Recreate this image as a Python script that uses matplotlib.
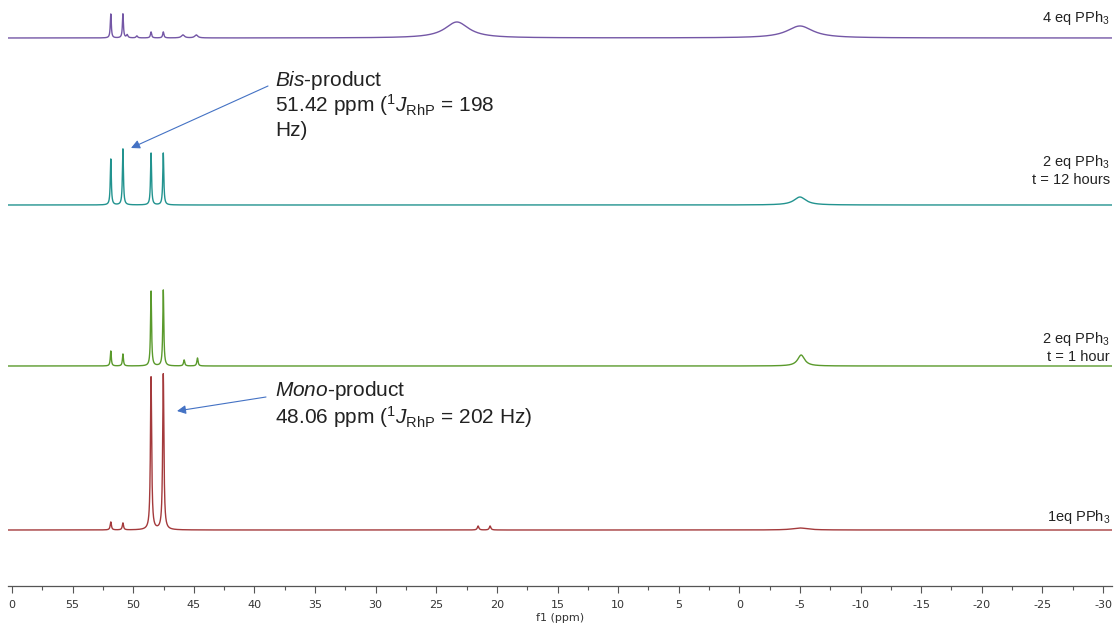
import numpy as np
import matplotlib
matplotlib.use("Agg")
import matplotlib.pyplot as plt
from matplotlib.ticker import MultipleLocator, FixedLocator, FixedFormatter

plt.rcParams['font.family'] = ['Liberation Sans', 'DejaVu Sans']
plt.rcParams['mathtext.fontset'] = 'custom'
plt.rcParams['mathtext.rm'] = 'Liberation Sans'
plt.rcParams['mathtext.it'] = 'Liberation Sans:italic'

# ---------------- data ----------------
spectrum_names = ["4 eq PPh$_3$", "2 eq PPh$_3$\nt = 12 hours", "2 eq PPh$_3$\nt = 1 hour", "1eq PPh$_3$"]
spectrum_colors = ["#7457a6", "#22938f", "#5a9a2c", "#a43a3c"]
baselines = [548, 381, 220, 56]          # vertical offsets (arbitrary units)

# peak lists: position (ppm), height (a.u.), FWHM (ppm)
peaks_4eq_ppm    = [51.85, 50.85, 50.50, 49.70, 48.53, 47.52, 45.9, 44.8, 23.3, -5.0]
peaks_4eq_height = [24,    24,    3,     2,     6,     6,     3,    3,    16,   12]
peaks_4eq_width  = [0.10,  0.10,  0.15,  0.15,  0.12,  0.12,  0.3,  0.3,  2.4,  2.6]

peaks_2eq12_ppm    = [51.85, 50.85, 48.53, 47.52, -5.0]
peaks_2eq12_height = [46,    56,    52,    52,    8]
peaks_2eq12_width  = [0.10,  0.10,  0.10,  0.10,  1.2]

peaks_2eq1_ppm    = [51.85, 50.85, 48.53, 47.52, 45.8, 44.7, -5.1]
peaks_2eq1_height = [15,    12,    75,    76,    6,    8,    11]
peaks_2eq1_width  = [0.10,  0.10,  0.10,  0.10,  0.12, 0.12, 0.7]

peaks_1eq_ppm    = [51.85, 50.85, 48.53, 47.52, 21.55, 20.56, -5.0]
peaks_1eq_height = [8,     7,     153,   156,   4,    4,    2]
peaks_1eq_width  = [0.12,  0.12,  0.12,  0.12,  0.15, 0.15, 1.5]

peak_tables = [
    (peaks_4eq_ppm, peaks_4eq_height, peaks_4eq_width),
    (peaks_2eq12_ppm, peaks_2eq12_height, peaks_2eq12_width),
    (peaks_2eq1_ppm, peaks_2eq1_height, peaks_2eq1_width),
    (peaks_1eq_ppm, peaks_1eq_height, peaks_1eq_width),
]

tick_values = [60, 55, 50, 45, 40, 35, 30, 25, 20, 15, 10, 5, 0, -5, -10, -15, -20, -25, -30]
tick_labels = ["0", "55", "50", "45", "40", "35", "30", "25", "20", "15", "10", "5", "0",
               "-5", "-10", "-15", "-20", "-25", "-30"]

# ---------------- figure ----------------
W, H = 1119, 627
fig = plt.figure(figsize=(W / 100, H / 100), dpi=100)
px_per_ppm = (1103 - 12) / 90.0
ax_left_px, ax_right_px, ax_bottom_px = 8, 1112, 586
ax = fig.add_axes([ax_left_px / W, (H - ax_bottom_px) / H,
                   (ax_right_px - ax_left_px) / W, ax_bottom_px / H])
xl = 60 + (12 - ax_left_px) / px_per_ppm
xr = -30 - (ax_right_px - 1103) / px_per_ppm
ax.set_xlim(xl, xr)
ax.set_ylim(0, ax_bottom_px)


def px2ppm(px):
    return 60 - (px - 12) / px_per_ppm


def py2y(py):
    return ax_bottom_px - py


x = np.linspace(xl, xr, 12000)
for (pos, hts, wds), base, col in zip(peak_tables, baselines, spectrum_colors):
    y = np.zeros_like(x)
    for p, h, w in zip(pos, hts, wds):
        g = w / 2.0
        y += h * g ** 2 / ((x - p) ** 2 + g ** 2)
    ax.plot(x, base + y, color=col, lw=1.0, solid_joinstyle='round')

# spectrum labels
label_x = px2ppm(1110)
label_y_px = [18, 170, 347, 517]
for name, lyp in zip(spectrum_names, label_y_px):
    ax.text(label_x, py2y(lyp), name, ha='right', va='center', fontsize=10.5,
            color='#222222', linespacing=1.2)

# annotations
ann_color = '#4472c4'
ax.annotate("", xy=(px2ppm(131), py2y(148)), xytext=(px2ppm(268), py2y(86)),
            arrowprops=dict(arrowstyle='-|>', color=ann_color, lw=0.8, mutation_scale=13,
                            shrinkA=0, shrinkB=0))
ax.annotate("", xy=(px2ppm(177), py2y(411)), xytext=(px2ppm(266), py2y(397)),
            arrowprops=dict(arrowstyle='-|>', color=ann_color, lw=0.8, mutation_scale=13,
                            shrinkA=0, shrinkB=0))

tx = px2ppm(275)
fs_ann = 15
ax.text(tx, py2y(80), r"$\mathit{Bis}$-product", fontsize=fs_ann, ha='left', va='center', color='#222222')
ax.text(tx, py2y(105), r"51.42 ppm ($^{1}$$\mathit{J}_{\mathrm{RhP}}$ = 198", fontsize=fs_ann,
        ha='left', va='center', color='#222222')
ax.text(tx, py2y(130), "Hz)", fontsize=fs_ann, ha='left', va='center', color='#222222')
ax.text(tx, py2y(391), r"$\mathit{Mono}$-product", fontsize=fs_ann, ha='left', va='center', color='#222222')
ax.text(tx, py2y(417), r"48.06 ppm ($^{1}$$\mathit{J}_{\mathrm{RhP}}$ = 202 Hz)", fontsize=fs_ann,
        ha='left', va='center', color='#222222')

# axis styling
for s in ['top', 'left', 'right']:
    ax.spines[s].set_visible(False)
ax.spines['bottom'].set_color('#555555')
ax.spines['bottom'].set_linewidth(0.9)
ax.set_yticks([])
ax.xaxis.set_major_locator(FixedLocator(tick_values))
ax.xaxis.set_major_formatter(FixedFormatter(tick_labels))
ax.xaxis.set_minor_locator(MultipleLocator(2.5))
ax.tick_params(axis='x', which='major', length=5, width=0.8, color='#555555',
               labelsize=8, pad=5, labelcolor='#333333')
ax.tick_params(axis='x', which='minor', length=3, width=0.8, color='#555555')
for lab in ax.get_xticklabels():
    lab.set_fontfamily('DejaVu Sans')
ax.set_xlabel("f1 (ppm)", fontsize=8, labelpad=2, color='#333333', fontfamily='DejaVu Sans')

fig.savefig("out.png", dpi=100)
